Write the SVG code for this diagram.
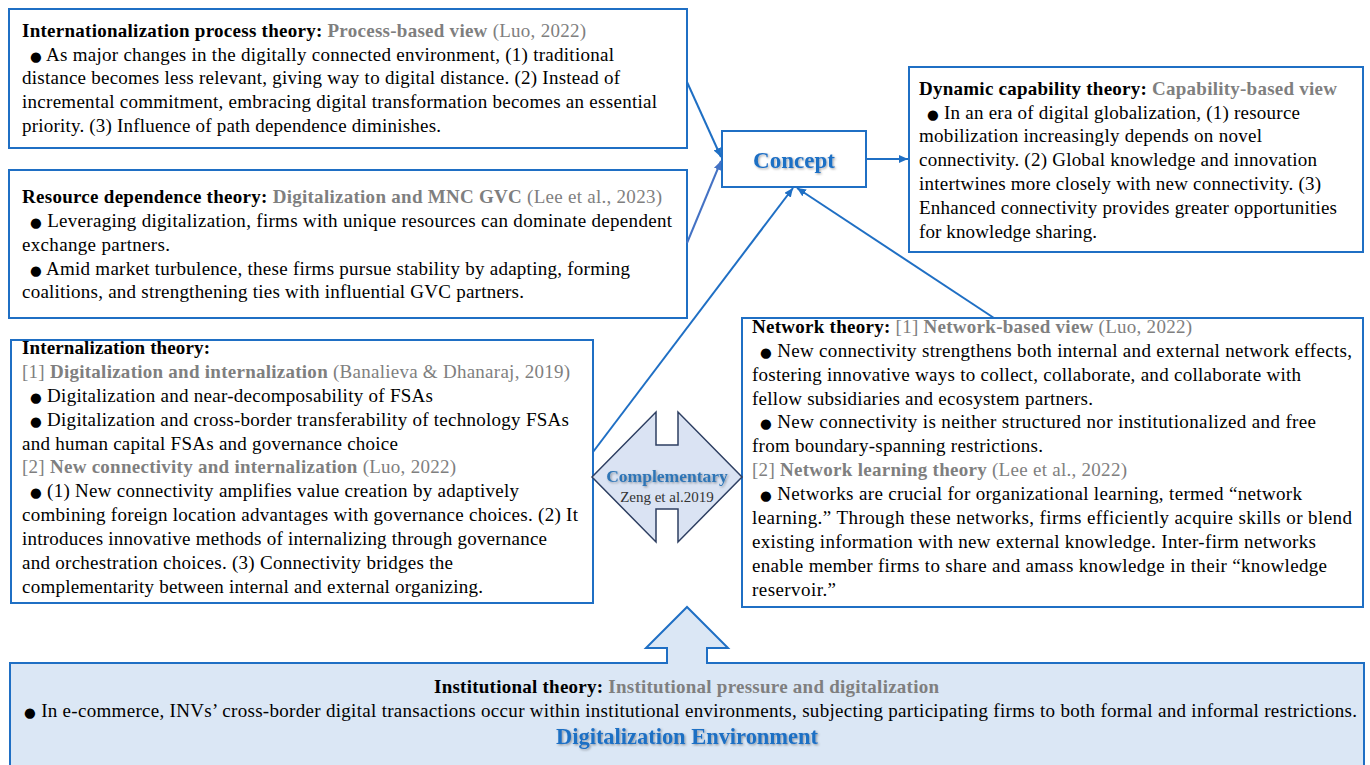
<svg xmlns="http://www.w3.org/2000/svg" width="1370" height="765" viewBox="0 0 1370 765">
<style>
.box{fill:#ffffff;stroke:#1f6fc4;stroke-width:2}
.t{font-family:"Liberation Serif","Times New Roman",serif;font-size:19px;fill:#000}
.b{font-weight:bold}
.g{fill:#7f7f7f}
.con{stroke:#1f6fc4;stroke-width:2;fill:none}
.bl{font-family:"DejaVu Sans",sans-serif;font-size:13.5px}
</style>
<defs>
<marker id="ah" markerUnits="userSpaceOnUse" markerWidth="10" markerHeight="8" refX="9" refY="4" orient="auto">
<path d="M0,0 L9,4 L0,8 Z" fill="#1f6fc4"/>
</marker>
<marker id="ah2" markerUnits="userSpaceOnUse" markerWidth="10" markerHeight="8" refX="9" refY="4" orient="auto">
<path d="M0,0 L9,4 L0,8 Z" fill="#4472c4"/>
</marker>
<filter id="sh" x="-10%" y="-20%" width="130%" height="150%">
<feDropShadow dx="1.2" dy="1.2" stdDeviation="0.8" flood-color="#000" flood-opacity="0.35"/>
</filter>
</defs>

<g id="institutional">
<path d="M10,767 L10,663 L667,663 L667,648 L646,648 L687,607 L728,648 L707,648 L707,663 L1364,663 L1364,767" fill="#dbe7f5" stroke="#1f6fc4" stroke-width="2"/>
<text class="t" x="434" y="693" textLength="505" lengthAdjust="spacing"><tspan class="b">Institutional theory:</tspan><tspan class="b g"> Institutional pressure and digitalization</tspan></text>
<text class="t" x="24" y="717" textLength="1333" lengthAdjust="spacing"><tspan class="bl">●</tspan> In e-commerce, INVs’ cross-border digital transactions occur within institutional environments, subjecting participating firms to both formal and informal restrictions.</text>
<text x="556" y="744" textLength="262" lengthAdjust="spacing" font-family="Liberation Serif,serif" font-size="22.5" font-weight="bold" fill="#1f6fc4" filter="url(#sh)">Digitalization Environment</text>
</g>

<g id="process">
<rect class="box" x="9" y="9" width="678" height="139"/>
<text class="t" x="22" y="37" textLength="564" lengthAdjust="spacing"><tspan class="b">Internationalization process theory:</tspan><tspan class="b g"> Process-based view</tspan><tspan class="g"> (Luo, 2022)</tspan></text>
<text class="t" x="30" y="61" textLength="584" lengthAdjust="spacing"><tspan class="bl">●</tspan> As major changes in the digitally connected environment, (1) traditional</text>
<text class="t" x="22" y="84" textLength="598" lengthAdjust="spacing">distance becomes less relevant, giving way to digital distance. (2) Instead of</text>
<text class="t" x="22" y="108" textLength="635" lengthAdjust="spacing">incremental commitment, embracing digital transformation becomes an essential</text>
<text class="t" x="22" y="132" textLength="419" lengthAdjust="spacing">priority. (3) Influence of path dependence diminishes.</text>
</g>

<g id="resource">
<rect class="box" x="9" y="170" width="678" height="148"/>
<text class="t" x="22" y="203" textLength="640" lengthAdjust="spacing"><tspan class="b">Resource dependence theory:</tspan><tspan class="b g"> Digitalization and MNC GVC</tspan><tspan class="g"> (Lee et al., 2023)</tspan></text>
<text class="t" x="30" y="227" textLength="642" lengthAdjust="spacing"><tspan class="bl">●</tspan> Leveraging digitalization, firms with unique resources can dominate dependent</text>
<text class="t" x="22" y="251" textLength="148" lengthAdjust="spacing">exchange partners.</text>
<text class="t" x="30" y="275" textLength="600" lengthAdjust="spacing"><tspan class="bl">●</tspan> Amid market turbulence, these firms pursue stability by adapting, forming</text>
<text class="t" x="22" y="298" textLength="502" lengthAdjust="spacing">coalitions, and strengthening ties with influential GVC partners.</text>
</g>

<g id="internalization">
<rect class="box" x="11" y="340" width="582" height="263"/>
<text class="t b" x="22" y="354" textLength="188" lengthAdjust="spacing">Internalization theory:</text>
<text class="t" x="22" y="378" textLength="548" lengthAdjust="spacing"><tspan class="g">[1] </tspan><tspan class="b g">Digitalization and internalization</tspan><tspan class="g"> (Banalieva &amp; Dhanaraj, 2019)</tspan></text>
<text class="t" x="30" y="402" textLength="403" lengthAdjust="spacing"><tspan class="bl">●</tspan> Digitalization and near-decomposability of FSAs</text>
<text class="t" x="30" y="426" textLength="539" lengthAdjust="spacing"><tspan class="bl">●</tspan> Digitalization and cross-border transferability of technology FSAs</text>
<text class="t" x="22" y="450" textLength="376" lengthAdjust="spacing">and human capital FSAs and governance choice</text>
<text class="t" x="22" y="473" textLength="434" lengthAdjust="spacing"><tspan class="g">[2] </tspan><tspan class="b g">New connectivity and internalization</tspan><tspan class="g"> (Luo, 2022)</tspan></text>
<text class="t" x="30" y="497" textLength="489" lengthAdjust="spacing"><tspan class="bl">●</tspan> (1) New connectivity amplifies value creation by adaptively</text>
<text class="t" x="22" y="521" textLength="556" lengthAdjust="spacing">combining foreign location advantages with governance choices. (2) It</text>
<text class="t" x="22" y="545" textLength="525" lengthAdjust="spacing">introduces innovative methods of internalizing through governance</text>
<text class="t" x="22" y="569" textLength="431" lengthAdjust="spacing">and orchestration choices. (3) Connectivity bridges the</text>
<text class="t" x="22" y="593" textLength="461" lengthAdjust="spacing">complementarity between internal and external organizing.</text>
</g>

<g id="concept">
<rect class="box" x="722" y="131" width="144" height="56"/>
<text x="794" y="168" text-anchor="middle" font-family="Liberation Serif,serif" font-size="23" font-weight="bold" fill="#1f6fc4" filter="url(#sh)">Concept</text>
</g>

<g id="dynamic">
<rect class="box" x="909" y="67" width="454" height="185"/>
<text class="t" x="919" y="95" textLength="418" lengthAdjust="spacing"><tspan class="b">Dynamic capability theory:</tspan><tspan class="b g"> Capability-based view</tspan></text>
<text class="t" x="927" y="119" textLength="373" lengthAdjust="spacing"><tspan class="bl">●</tspan> In an era of digital globalization, (1) resource</text>
<text class="t" x="919" y="142" textLength="343" lengthAdjust="spacing">mobilization increasingly depends on novel</text>
<text class="t" x="919" y="166" textLength="398" lengthAdjust="spacing">connectivity. (2) Global knowledge and innovation</text>
<text class="t" x="919" y="190" textLength="402" lengthAdjust="spacing">intertwines more closely with new connectivity. (3)</text>
<text class="t" x="919" y="214" textLength="418" lengthAdjust="spacing">Enhanced connectivity provides greater opportunities</text>
<text class="t" x="919" y="238" textLength="178" lengthAdjust="spacing">for knowledge sharing.</text>
</g>

<g id="network">
<rect class="box" x="742" y="318" width="621" height="289"/>
<text class="t" x="752" y="333" textLength="440" lengthAdjust="spacing"><tspan class="b">Network theory:</tspan><tspan class="g"> [1] </tspan><tspan class="b g">Network-based view</tspan><tspan class="g"> (Luo, 2022)</tspan></text>
<text class="t" x="760" y="357" textLength="592" lengthAdjust="spacing"><tspan class="bl">●</tspan> New connectivity strengthens both internal and external network effects,</text>
<text class="t" x="752" y="381" textLength="549" lengthAdjust="spacing">fostering innovative ways to collect, collaborate, and collaborate with</text>
<text class="t" x="752" y="405" textLength="341" lengthAdjust="spacing">fellow subsidiaries and ecosystem partners.</text>
<text class="t" x="760" y="428" textLength="556" lengthAdjust="spacing"><tspan class="bl">●</tspan> New connectivity is neither structured nor institutionalized and free</text>
<text class="t" x="752" y="452" textLength="291" lengthAdjust="spacing">from boundary-spanning restrictions.</text>
<text class="t" x="752" y="476" textLength="375" lengthAdjust="spacing"><tspan class="g">[2] </tspan><tspan class="b g">Network learning theory</tspan><tspan class="g"> (Lee et al., 2022)</tspan></text>
<text class="t" x="760" y="500" textLength="542" lengthAdjust="spacing"><tspan class="bl">●</tspan> Networks are crucial for organizational learning, termed “network</text>
<text class="t" x="752" y="524" textLength="600" lengthAdjust="spacing">learning.” Through these networks, firms efficiently acquire skills or blend</text>
<text class="t" x="752" y="548" textLength="564" lengthAdjust="spacing">existing information with new external knowledge. Inter-firm networks</text>
<text class="t" x="752" y="572" textLength="575" lengthAdjust="spacing">enable member firms to share and amass knowledge in their “knowledge</text>
<text class="t" x="752" y="596" textLength="84" lengthAdjust="spacing">reservoir.”</text>
</g>

<g id="complementary">
<path d="M592,477 L656,412 L656,445 L678,445 L678,412 L742,477 L678,542 L678,509 L656,509 L656,542 Z" fill="#dae3f3" stroke="#2e3f62" stroke-width="1.5"/>
<text x="667" y="482" text-anchor="middle" font-family="Liberation Serif,serif" font-size="17.5" font-weight="bold" fill="#2e75b6" filter="url(#sh)">Complementary</text>
<text x="667" y="502" text-anchor="middle" font-family="Liberation Serif,serif" font-size="15" fill="#333">Zeng et al.2019</text>
</g>

<g id="connectors">
<line class="con" x1="687" y1="82" x2="721" y2="157" marker-end="url(#ah)"/>
<line x1="687" y1="243" x2="721" y2="161" stroke="#4472c4" stroke-width="2" marker-end="url(#ah2)"/>
<line class="con" x1="593" y1="452" x2="793" y2="188" marker-end="url(#ah)"/>
<line class="con" x1="994" y1="318" x2="797" y2="188" marker-end="url(#ah)"/>
<line class="con" x1="866" y1="159" x2="908" y2="159" marker-end="url(#ah)"/>
</g>
</svg>
